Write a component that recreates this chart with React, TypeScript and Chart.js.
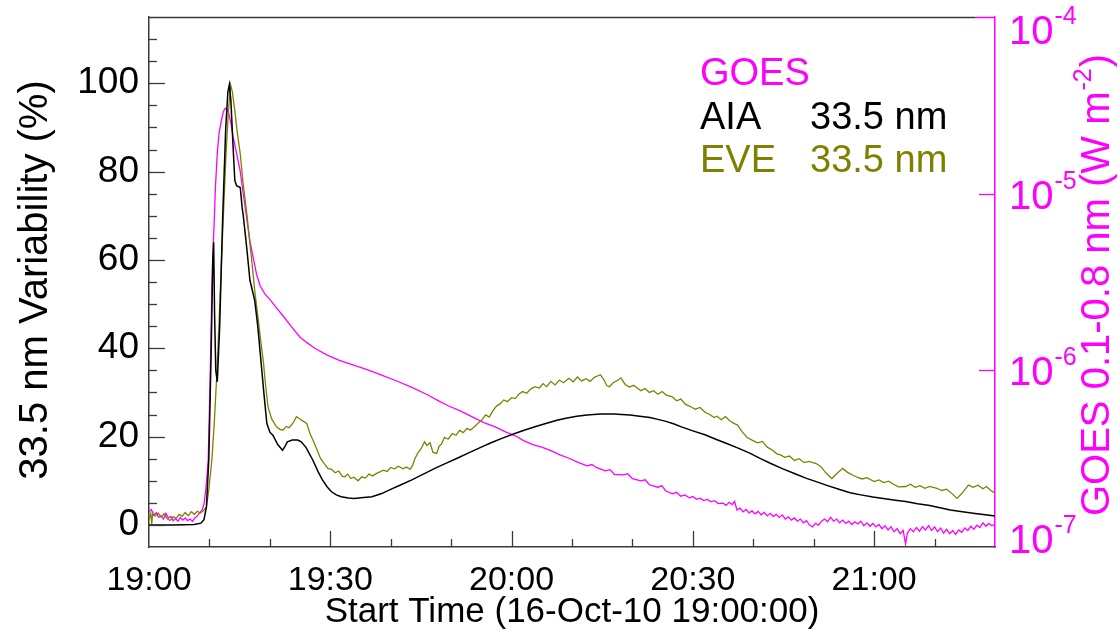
import React, { useEffect, useRef } from 'react';
import { Chart, registerables } from 'chart.js';

Chart.register(...registerables);

const FONT = '"Liberation Sans", Arial, Helvetica, sans-serif';
const AXIS_COLOR = '#3a3a3a';
const AIA_COLOR = '#000000';
const EVE_COLOR = '#808000';
const GOES_COLOR = '#ff00ff';

// x axis: minutes after 19:00 on 16-Oct-2010
const xTickMinutes = [0, 30, 60, 90, 120];
const xTickLabels = ['19:00', '19:30', '20:00', '20:30', '21:00'];
const leftMajorTicks = [0, 20, 40, 60, 80, 100];
const goesTickValues = [1e-7, 1e-6, 1e-5, 1e-4];
const goesTickExponents = ['-7', '-6', '-5', '-4'];

// AIA 33.5 nm variability (%) : [minute, value]
const aiaSamples: [number, number][] = [
  [0, 0.0], [4, 0.0], [7.5, 0.1], [8.6, 0.4], [9.1, 1.2], [9.5, 4], [9.9, 15], [10.3, 40],
  [10.55, 60], [10.7, 64], [10.85, 48], [11.05, 35], [11.3, 32.4], [11.7, 45], [12.2, 70],
  [12.7, 90], [13.05, 98], [13.3, 99.7], [13.55, 96], [13.9, 86], [14.2, 78], [14.5, 76.8],
  [15.1, 76.4], [15.4, 72], [15.6, 70], [16.0, 65], [16.3, 61], [16.7, 55.4], [17.2, 52.5],
  [17.5, 50.8], [18.0, 45], [18.4, 39], [19.0, 30], [19.5, 23], [20.0, 21], [20.5, 20.3],
  [21.3, 18.2], [22.1, 16.9], [22.5, 17.8], [22.9, 18.8], [23.7, 19.2], [24.6, 19.2],
  [25.2, 18.8], [26.0, 17.5], [27.1, 14.7], [28.0, 12.0], [28.7, 10.2], [29.5, 8.6],
  [30.2, 7.5], [31.0, 6.8], [31.8, 6.4], [33.0, 6.1], [33.9, 6.0], [35.5, 6.2], [36.9, 6.4],
  [38.5, 7.1], [39.9, 8.0], [41.7, 9.1], [43.5, 10.2], [45.4, 11.5], [47.3, 12.8],
  [49.2, 14.0], [51.0, 15.1], [52.9, 16.3], [54.8, 17.5], [56.6, 18.6], [58.4, 19.6],
  [60.3, 20.6], [62.2, 21.5], [64.0, 22.3], [65.8, 23.0], [67.5, 23.7], [69.2, 24.2],
  [70.8, 24.6], [72.5, 24.9], [74.7, 25.1], [76.9, 25.1], [78.2, 25.0], [79.6, 24.9],
  [81.2, 24.6], [82.9, 24.3], [84.2, 23.9], [85.4, 23.5], [86.8, 22.9], [88.1, 22.2],
  [90.0, 21.3], [92.0, 20.4], [93.8, 19.4], [95.5, 18.5], [97.5, 17.4], [99.5, 16.2],
  [101.2, 15.0], [102.9, 13.9], [104.9, 12.7], [106.9, 11.6], [108.7, 10.6], [110.4, 9.8],
  [112.3, 8.9], [114.3, 8.0], [116.0, 7.3], [117.8, 6.8], [119.8, 6.3], [121.8, 5.9],
  [123.5, 5.6], [125.2, 5.3], [127.2, 4.8], [129.2, 4.4], [130.9, 3.9], [132.6, 3.4],
  [134.6, 3.0], [136.7, 2.6], [138.4, 2.3], [140, 2.0],
];

// EVE 33.5 nm variability (%) : [minute, value]
const eveSamples: [number, number][] = [
  [0, 1.2], [0.3, 2.6], [0.45, 0.2], [0.6, 2.4], [1.0, 2.0], [1.5, 2.7], [2.0, 1.8], [2.5, 2.5],
  [3.0, 1.4], [3.5, 1.0], [4.0, 1.9], [4.5, 1.5], [5.0, 2.4], [5.5, 2.0], [6.0, 2.8], [6.5, 2.1],
  [7.0, 3.0], [7.5, 2.4], [8.0, 3.1], [8.5, 2.7], [9.0, 3.2], [9.5, 4.0], [9.9, 8.0], [10.4, 14.7],
  [10.8, 23], [11.2, 33.5], [11.6, 46], [12.0, 59.9], [12.4, 73], [12.7, 82.5], [13.1, 93],
  [13.5, 99.7], [13.8, 98], [14.2, 93.8], [14.6, 89], [15.1, 84], [15.6, 77], [16.2, 70.4],
  [16.6, 65], [17.0, 59.9], [17.5, 53], [18.1, 46.3], [18.5, 41.5], [18.9, 37.3], [19.3, 31.5],
  [19.7, 26.7], [20.3, 24.0], [21.1, 22.2], [21.7, 21.6], [22.2, 21.5], [22.7, 22.3], [23.2, 22.0],
  [23.9, 23.2], [24.4, 24.5], [25.0, 24.0], [25.5, 23.5], [26.1, 23.0], [26.6, 20.8], [27.2, 19.0],
  [27.8, 17.0], [28.4, 15.0], [29.0, 13.9], [29.6, 12.8], [30.2, 12.6], [30.8, 11.8], [31.4, 12.2],
  [32.0, 11.0], [32.4, 10.9], [32.9, 11.5], [33.4, 10.5], [33.9, 10.8], [34.6, 10.0], [35.2, 10.9],
  [35.8, 10.6], [36.4, 11.5], [37.0, 11.1], [37.6, 11.6], [38.2, 12.0], [38.8, 12.4], [39.4, 12.1],
  [40.0, 13.0], [40.6, 12.7], [41.3, 13.3], [42.0, 12.7], [42.6, 13.1], [43.2, 12.6], [43.6, 13.4],
  [44.0, 15.0], [44.5, 16.3], [45.0, 17.2], [45.6, 18.8], [46.0, 18.0], [46.5, 18.6], [47.0, 16.4],
  [47.6, 16.2], [48.0, 17.8], [48.4, 18.3], [48.9, 19.8], [49.5, 19.4], [50.2, 20.7], [50.8, 20.3],
  [51.4, 21.4], [52.0, 20.9], [52.6, 21.8], [53.2, 21.5], [53.9, 22.3], [54.5, 23.1], [55.1, 23.8],
  [55.7, 24.9], [56.3, 24.4], [56.9, 25.8], [57.5, 26.9], [58.1, 27.4], [58.7, 28.3], [59.3, 27.9],
  [60.0, 28.8], [60.6, 28.6], [61.2, 29.6], [61.8, 30.2], [62.5, 29.8], [63.2, 30.8], [63.9, 31.3],
  [64.6, 31.0], [65.2, 32.0], [65.8, 31.3], [66.5, 32.5], [67.2, 31.7], [67.9, 32.8], [68.6, 32.2],
  [69.5, 33.2], [70.2, 32.4], [70.9, 33.5], [71.6, 32.6], [72.3, 33.1], [73.0, 32.5], [73.7, 33.4],
  [74.7, 34.0], [75.3, 32.8], [75.8, 31.5], [76.2, 31.3], [76.8, 32.2], [77.4, 32.6], [78.1, 33.3],
  [78.8, 31.8], [79.5, 31.2], [80.2, 31.6], [81.4, 30.4], [82.1, 30.9], [82.8, 30.0], [83.5, 30.4],
  [84.2, 29.6], [84.9, 30.2], [85.6, 29.4], [86.6, 29.0], [87.3, 28.1], [88.0, 28.5], [88.8, 27.3],
  [89.6, 26.8], [90.4, 26.2], [91.2, 26.6], [92.0, 25.5], [92.8, 25.0], [93.5, 24.3], [94.0, 24.6],
  [94.7, 23.8], [95.4, 24.5], [96.1, 23.6], [96.8, 23.0], [97.4, 22.6], [98.2, 21.0], [99.0, 19.8],
  [99.8, 19.2], [100.7, 18.6], [101.5, 18.9], [102.3, 17.6], [103.1, 17.0], [103.9, 16.1],
  [104.6, 15.8], [105.2, 15.3], [106.0, 15.6], [106.8, 14.6], [107.6, 15.0], [108.4, 14.1],
  [109.2, 14.4], [110.4, 13.9], [111.2, 13.2], [112.0, 11.8], [113.0, 10.5], [113.8, 11.6],
  [114.8, 12.8], [115.6, 11.9], [116.4, 11.3], [117.2, 10.8], [118.0, 10.4], [118.8, 10.7],
  [120.0, 9.8], [120.8, 10.2], [121.6, 9.6], [122.4, 9.9], [123.2, 9.2], [124.0, 8.6], [125.2, 8.7],
  [126.0, 9.2], [126.8, 8.5], [127.6, 8.9], [128.4, 8.3], [129.2, 8.7], [130.4, 8.3], [131.2, 7.8],
  [132.0, 8.1], [132.8, 7.2], [133.7, 6.0], [134.5, 7.1], [135.6, 9.0], [136.4, 8.5], [137.2, 9.0],
  [138.0, 8.2], [138.6, 8.7], [139.3, 7.8], [140, 7.2],
];

// GOES 0.1-0.8 nm flux (W m^-2) : [minute, flux]
const goesSamples: [number, number][] = [
  [0, 1.58e-7], [0.4, 1.63e-7], [0.8, 1.52e-7], [1.2, 1.56e-7], [1.6, 1.47e-7], [2.0, 1.5e-7],
  [2.4, 1.44e-7], [2.8, 1.55e-7], [3.2, 1.46e-7], [3.6, 1.49e-7], [4.0, 1.41e-7], [4.4, 1.45e-7],
  [4.8, 1.4e-7], [5.2, 1.47e-7], [5.6, 1.42e-7], [6.0, 1.46e-7], [6.4, 1.41e-7], [6.8, 1.44e-7],
  [7.2, 1.4e-7], [7.6, 1.46e-7], [8.0, 1.5e-7], [8.4, 1.56e-7], [8.8, 1.62e-7], [9.1, 1.75e-7],
  [9.4, 2.1e-7], [9.8, 3.1e-7], [10.1, 8.5e-7], [10.4, 2.75e-6], [10.6, 4.8e-6], [10.8, 7.1e-6],
  [11.0, 1.1e-5], [11.3, 1.7e-5], [11.6, 2.2e-5], [12.0, 2.62e-5], [12.3, 2.9e-5], [12.6, 3.05e-5],
  [12.9, 3.0e-5], [13.2, 2.85e-5], [13.6, 2.45e-5], [13.9, 2.11e-5], [14.4, 1.75e-5],
  [15.05, 1.37e-5], [15.6, 1.0e-5], [16.2, 7.1e-6], [16.7, 5.4e-6], [17.3, 4.24e-6],
  [17.8, 3.5e-6], [18.4, 3.0e-6], [19.2, 2.7e-6], [20.0, 2.52e-6], [21.0, 2.28e-6],
  [22.2, 2.03e-6], [23.5, 1.78e-6], [25.0, 1.54e-6], [26.2, 1.43e-6], [27.5, 1.33e-6],
  [29.5, 1.22e-6], [31.5, 1.14e-6], [33.5, 1.08e-6], [36.1, 1.01e-6], [38.5, 9.4e-7],
  [41.0, 8.7e-7], [43.5, 8.0e-7], [46.0, 7.3e-7], [48.0, 6.7e-7], [49.5, 6.3e-7], [51.5, 5.9e-7],
  [53.5, 5.45e-7], [55.4, 5.06e-7], [57.2, 4.8e-7], [59.0, 4.48e-7], [60.6, 4.26e-7],
  [62.0, 4.0e-7], [63.5, 3.8e-7], [65.0, 3.68e-7], [66.6, 3.5e-7], [68.0, 3.32e-7],
  [69.5, 3.18e-7], [71.0, 3.01e-7], [72.5, 2.88e-7], [73.3, 2.93e-7], [74.0, 2.82e-7],
  [75.5, 2.7e-7], [76.3, 2.74e-7], [77.0, 2.58e-7], [78.5, 2.56e-7], [79.2, 2.6e-7],
  [80.0, 2.44e-7], [81.4, 2.37e-7], [82.1, 2.4e-7], [82.8, 2.25e-7], [84.2, 2.18e-7],
  [84.9, 2.22e-7], [85.5, 2.08e-7], [86.6, 2.0e-7], [87.3, 2.04e-7], [88.0, 1.94e-7],
  [88.7, 1.97e-7], [89.4, 1.9e-7], [90.0, 1.93e-7], [90.6, 1.86e-7], [91.2, 1.89e-7],
  [91.8, 1.83e-7], [92.4, 1.86e-7], [93.0, 1.8e-7], [93.6, 1.83e-7], [94.2, 1.76e-7],
  [95.0, 1.77e-7], [95.5, 1.72e-7], [96.0, 1.79e-7], [96.5, 1.74e-7], [96.9, 1.81e-7],
  [97.3, 1.62e-7], [97.8, 1.66e-7], [98.3, 1.58e-7], [98.8, 1.63e-7], [99.3, 1.56e-7],
  [99.8, 1.6e-7], [100.3, 1.54e-7], [100.8, 1.59e-7], [101.3, 1.52e-7], [101.8, 1.57e-7],
  [102.3, 1.5e-7], [102.8, 1.55e-7], [103.3, 1.49e-7], [103.8, 1.53e-7], [104.3, 1.47e-7],
  [104.8, 1.52e-7], [105.3, 1.44e-7], [105.8, 1.48e-7], [106.3, 1.42e-7], [106.8, 1.46e-7],
  [107.3, 1.4e-7], [107.8, 1.44e-7], [108.3, 1.37e-7], [108.8, 1.41e-7], [109.3, 1.33e-7],
  [109.8, 1.3e-7], [110.3, 1.36e-7], [110.8, 1.33e-7], [111.3, 1.4e-7], [111.8, 1.44e-7],
  [112.3, 1.39e-7], [112.8, 1.47e-7], [113.3, 1.4e-7], [113.8, 1.44e-7], [114.3, 1.37e-7],
  [114.8, 1.42e-7], [115.3, 1.36e-7], [115.8, 1.4e-7], [116.3, 1.34e-7], [116.8, 1.39e-7],
  [117.3, 1.35e-7], [117.8, 1.4e-7], [118.3, 1.32e-7], [118.8, 1.37e-7], [119.3, 1.31e-7],
  [119.8, 1.36e-7], [120.3, 1.3e-7], [120.8, 1.34e-7], [121.3, 1.27e-7], [121.8, 1.32e-7],
  [122.3, 1.25e-7], [122.8, 1.3e-7], [123.3, 1.22e-7], [123.8, 1.27e-7], [124.3, 1.19e-7],
  [124.8, 1.24e-7], [125.2, 1.04e-7], [125.5, 1.2e-7], [126.0, 1.27e-7], [126.5, 1.22e-7],
  [127.0, 1.29e-7], [127.5, 1.23e-7], [128.0, 1.3e-7], [128.5, 1.25e-7], [129.0, 1.32e-7],
  [129.5, 1.24e-7], [130.0, 1.3e-7], [130.5, 1.22e-7], [131.0, 1.28e-7], [131.5, 1.2e-7],
  [132.0, 1.26e-7], [132.5, 1.19e-7], [133.0, 1.24e-7], [133.5, 1.18e-7], [134.0, 1.25e-7],
  [134.5, 1.21e-7], [135.0, 1.28e-7], [135.5, 1.24e-7], [136.0, 1.31e-7], [136.5, 1.26e-7],
  [137.0, 1.33e-7], [137.5, 1.29e-7], [138.0, 1.37e-7], [138.5, 1.31e-7], [139.0, 1.36e-7],
  [139.5, 1.32e-7], [140, 1.35e-7],
];

const toPoints = (s: [number, number][]) => s.map(([x, y]) => ({ x, y }));

const overlayPlugin = {
  id: 'overlay',
  afterDraw(chart: any) {
    const ctx: CanvasRenderingContext2D = chart.ctx;
    const { left, right, top, bottom } = chart.chartArea;
    const xs = chart.scales.x;
    const yl = chart.scales.y;
    const yr = chart.scales.y2;
    ctx.save();

    // top border
    ctx.lineWidth = 1.5;
    ctx.strokeStyle = AXIS_COLOR;
    ctx.beginPath();
    ctx.moveTo(left, top + 0.5);
    ctx.lineTo(right - 20, top + 0.5);
    ctx.stroke();
    ctx.strokeStyle = GOES_COLOR;
    ctx.beginPath();
    ctx.moveTo(right - 20, top + 0.5);
    ctx.lineTo(right, top + 0.5);
    ctx.stroke();

    // x ticks (inward)
    ctx.strokeStyle = AXIS_COLOR;
    ctx.lineWidth = 1.3;
    xs.ticks.forEach((t: any) => {
      const v = t.value;
      if (v <= xs.min || v >= xs.max) return;
      const px = Math.round(xs.getPixelForValue(v)) + 0.5;
      const len = v % 30 === 0 ? 16 : 8;
      ctx.beginPath();
      ctx.moveTo(px, bottom);
      ctx.lineTo(px, bottom - len);
      ctx.stroke();
    });

    // left ticks (inward)
    yl.ticks.forEach((t: any) => {
      const v = t.value;
      if (v <= yl.min || v >= yl.max) return;
      const py = Math.round(yl.getPixelForValue(v)) + 0.5;
      const len = leftMajorTicks.includes(v) ? 16 : 8;
      ctx.beginPath();
      ctx.moveTo(left, py);
      ctx.lineTo(left + len, py);
      ctx.stroke();
    });

    // right ticks + labels
    ctx.strokeStyle = GOES_COLOR;
    ctx.fillStyle = GOES_COLOR;
    goesTickValues.forEach((v, i) => {
      const py = Math.round(yr.getPixelForValue(v)) + 0.5;
      if (v > yr.min && v < yr.max) {
        ctx.beginPath();
        ctx.moveTo(right, py);
        ctx.lineTo(right - 16, py);
        ctx.stroke();
      }
      const cy = Math.min(Math.max(py, top + 13), bottom - 8);
      ctx.font = `40px ${FONT}`;
      ctx.textAlign = 'left';
      ctx.textBaseline = 'alphabetic';
      const baseX = right + 14;
      ctx.fillText('10', baseX, cy + 14);
      const w = ctx.measureText('10').width;
      ctx.font = `25px ${FONT}`;
      ctx.fillText(goesTickExponents[i], baseX + w + 1, cy - 6);
    });

    // axis titles
    ctx.fillStyle = '#000';
    ctx.font = `35px ${FONT}`;
    ctx.textAlign = 'center';
    ctx.textBaseline = 'middle';
    ctx.fillText('Start Time (16-Oct-10 19:00:00)', (left + right) / 2, 612);

    ctx.save();
    ctx.font = `40px ${FONT}`;
    ctx.translate(36, 280);
    ctx.rotate(-Math.PI / 2);
    ctx.fillText('33.5 nm Variability (%)', 0, 0);
    ctx.restore();

    // right title with superscript
    ctx.save();
    ctx.fillStyle = GOES_COLOR;
    ctx.translate(1098, 285);
    ctx.rotate(-Math.PI / 2);
    ctx.textAlign = 'left';
    ctx.textBaseline = 'middle';
    const partA = 'GOES 0.1-0.8 nm (W m';
    const sup = '-2';
    const partB = ')';
    ctx.font = `40px ${FONT}`;
    const wA = ctx.measureText(partA).width;
    const wB = ctx.measureText(partB).width;
    ctx.font = `25px ${FONT}`;
    const wS = ctx.measureText(sup).width;
    const total = wA + wS + wB + 2;
    const x0 = -total / 2;
    ctx.font = `40px ${FONT}`;
    ctx.fillText(partA, x0, 0);
    ctx.font = `25px ${FONT}`;
    ctx.fillText(sup, x0 + wA + 1, -14);
    ctx.font = `40px ${FONT}`;
    ctx.fillText(partB, x0 + wA + wS + 2, 0);
    ctx.restore();

    // legend text
    ctx.textAlign = 'left';
    ctx.textBaseline = 'alphabetic';
    ctx.font = `38px ${FONT}`;
    ctx.fillStyle = GOES_COLOR;
    ctx.fillText('GOES', 700, 85);
    ctx.fillStyle = AIA_COLOR;
    ctx.fillText('AIA', 700, 129);
    ctx.fillText('33.5 nm', 810, 129);
    ctx.fillStyle = EVE_COLOR;
    ctx.fillText('EVE', 700, 172);
    ctx.fillText('33.5 nm', 810, 172);

    ctx.restore();
  },
};

export default function App() {
  const canvasRef = useRef<HTMLCanvasElement | null>(null);

  useEffect(() => {
    if (!canvasRef.current) return;
    const chart = new Chart(canvasRef.current, {
      type: 'line',
      data: {
        datasets: [
          {
            label: 'AIA 33.5 nm',
            data: toPoints(aiaSamples),
            borderColor: AIA_COLOR,
            borderWidth: 1.5,
            pointRadius: 0,
            yAxisID: 'y',
          },
          {
            label: 'EVE 33.5 nm',
            data: toPoints(eveSamples),
            borderColor: EVE_COLOR,
            borderWidth: 1.3,
            pointRadius: 0,
            yAxisID: 'y',
          },
          {
            label: 'GOES',
            data: toPoints(goesSamples),
            borderColor: GOES_COLOR,
            borderWidth: 1.3,
            pointRadius: 0,
            yAxisID: 'y2',
          },
        ],
      },
      options: {
        animation: false,
        responsive: false,
        maintainAspectRatio: false,
        layout: { padding: { top: 17, left: 0, right: 0, bottom: 0 } },
        plugins: { legend: { display: false }, tooltip: { enabled: false } },
        scales: {
          x: {
            type: 'linear',
            position: 'bottom',
            min: 0,
            max: 140,
            grid: { display: false, drawTicks: false },
            border: { display: true, color: AXIS_COLOR, width: 1.5 },
            ticks: {
              stepSize: 10,
              autoSkip: false,
              maxRotation: 0,
              padding: 13,
              color: '#000',
              font: { family: FONT, size: 34 },
              callback: (v: any) => {
                const i = xTickMinutes.indexOf(Number(v));
                return i >= 0 ? xTickLabels[i] : '';
              },
            },
            afterFit: (s: any) => {
              s.height = 91;
              s.paddingLeft = 0;
              s.paddingRight = 0;
            },
          },
          y: {
            type: 'linear',
            position: 'left',
            min: -5,
            max: 115,
            grid: { display: false, drawTicks: false },
            border: { display: true, color: AXIS_COLOR, width: 1.5 },
            ticks: {
              stepSize: 5,
              autoSkip: false,
              padding: 10,
              color: '#000',
              font: { family: FONT, size: 37 },
              callback: (v: any) => (leftMajorTicks.includes(Number(v)) ? String(v) : ''),
            },
            afterFit: (s: any) => {
              s.width = 149;
              s.paddingTop = 0;
              s.paddingBottom = 0;
            },
          },
          y2: {
            type: 'logarithmic',
            position: 'right',
            min: 1e-7,
            max: 1e-4,
            grid: { display: false, drawTicks: false },
            border: { display: true, color: GOES_COLOR, width: 1.5 },
            ticks: { display: false },
            afterBuildTicks: (s: any) => { s.ticks = goesTickValues.map((value) => ({ value })); },
            afterFit: (s: any) => {
              s.width = 125;
              s.paddingTop = 0;
              s.paddingBottom = 0;
            },
          },
        },
      },
      plugins: [overlayPlugin],
    } as any);
    return () => chart.destroy();
  }, []);

  return (
    <div style={{ position: 'fixed', left: 0, top: 0, width: 1120, height: 638, background: '#fff' }}>
      <canvas ref={canvasRef} width={1120} height={638} style={{ display: 'block' }} />
    </div>
  );
}
